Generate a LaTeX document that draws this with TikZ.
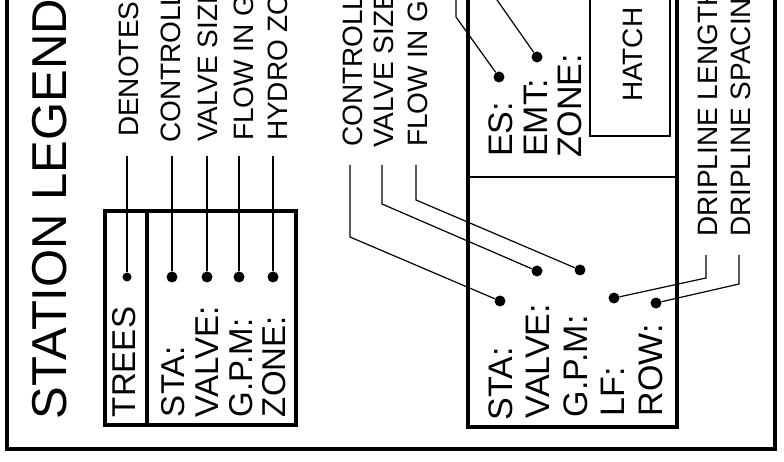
\documentclass[tikz,border=0pt]{standalone}
\usepackage{fontspec}
\setmainfont{Liberation Sans}
\newcommand\myfs[1]{\fontsize{#1}{#1}\selectfont}
\tikzset{
  boxline/.style={line width=3.8pt, line join=miter},
  thinbox/.style={line width=1.4pt},
  leader/.style={line width=1.2pt},
  dot/.style={circle, fill=black, draw=none, inner sep=0pt, minimum size=11pt},
  smalldot/.style={dot, minimum size=9pt},
  lbl/.style={rotate=90, anchor=base west, inner sep=0pt, outer sep=0pt},
}
\begin{document}
\begin{tikzpicture}[x=1pt,y=-1pt]
\useasboundingbox (0,0) rectangle (784,462);
\clip (0,0) rectangle (784,462);
\fill[white] (0,0) rectangle (784,462);
% outer frame
\draw[boxline, line width=4.4pt] (7,-30) -- (7,449) -- (775,449) -- (775,-30);
% title
\node[lbl, font=\myfs{49}] (title) at (66,419) {STATION LEGEND};
% left legend box
\draw[boxline] (105,211) rectangle (296,425);
\draw[boxline] (147,211) -- (147,425);
\node[lbl, font=\myfs{33}] (trees) at (135,417) {TREES};
\node[lbl, font=\myfs{33}] (sta) at (184,417) {STA:};
\node[lbl, font=\myfs{33}] (valve) at (218,417) {VALVE:};
\node[lbl, font=\myfs{33}] (gpm) at (252,417) {G.P.M:};
\node[lbl, font=\myfs{33}] (zone) at (285,417) {ZONE:};
\node[smalldot] (dtrees) at (127,277) {};
\node[dot] (dsta) at (172,277) {};
\node[dot] (dvalve) at (207,277) {};
\node[dot] (dgpm) at (239,277) {};
\node[dot] (dzone) at (273,277) {};
\node[lbl, font=\myfs{28}] (ltrees) at (138,137) {DENOTES TREES};
\node[lbl, font=\myfs{28}] (lsta) at (180,143) {CONTROLLER};
\node[lbl, font=\myfs{28}] (lvalve) at (217,142) {VALVE SIZE};
\node[lbl, font=\myfs{28}] (lgpm) at (253,141) {FLOW IN G.P.M.};
\node[lbl, font=\myfs{28}] (lzone) at (287,141) {HYDRO ZONE};
\coordinate (ttrees) at (127,156);
\coordinate (tsta) at (172,156);
\coordinate (tvalve) at (207,156);
\coordinate (tgpm) at (239,156);
\coordinate (tzone) at (273,156);
\draw[leader] (ttrees) -- (dtrees);
\draw[leader] (tsta) -- (dsta);
\draw[leader] (tvalve) -- (dvalve);
\draw[leader] (tgpm) -- (dgpm);
\draw[leader] (tzone) -- (dzone);
% right legend box
\draw[boxline] (468,-30) -- (468,427) -- (677,427) -- (677,-30);
\draw[leader] (468,177) -- (677,177);
\draw[thinbox] (590,-30) -- (590,136) -- (670,136) -- (670,-30);
\node[lbl, font=\myfs{28}] (hatch) at (642,102) {HATCH};
% upper section
\node[lbl, font=\myfs{34}] (es) at (512,157) {ES:};
\node[lbl, font=\myfs{34}] (emt) at (547,157) {EMT:};
\node[lbl, font=\myfs{34}] (zone2) at (581,158) {ZONE:};
\node[dot] (des) at (499,77) {};
\node[dot] (demt) at (537,57) {};
\coordinate (esa) at (456,-30);
\coordinate (esb) at (456,17);
\coordinate (emta) at (476,-30);
\draw[leader] (esa) -- (esb) -- (des);
\draw[leader] (emta) -- (demt);
% lower section
\node[lbl, font=\myfs{34}] (sta2) at (512,420) {STA:};
\node[lbl, font=\myfs{34}] (valve2) at (549,418) {VALVE:};
\node[lbl, font=\myfs{34}] (gpm2) at (587,417) {G.P.M:};
\node[lbl, font=\myfs{34}] (lf2) at (624,416) {LF:};
\node[lbl, font=\myfs{34}] (row2) at (662,416) {ROW:};
\node[dot] (dsta2) at (500,301) {};
\node[dot] (dvalve2) at (537,271) {};
\node[dot] (dgpm2) at (580,270) {};
\node[dot] (dlf2) at (614,298) {};
\node[dot] (drow2) at (656,303) {};
\node[lbl, font=\myfs{28}] (lsta2) at (362,147) {CONTROLLER};
\node[lbl, font=\myfs{28}] (lvalve2) at (393,148) {VALVE SIZE};
\node[lbl, font=\myfs{28}] (lgpm2) at (427,147) {FLOW IN G.P.M.};
\node[lbl, font=\myfs{28}] (llf2) at (717,237) {DRIPLINE LENGTH};
\node[lbl, font=\myfs{28}] (lrow2) at (750,237) {DRIPLINE SPACING};
\coordinate (sta2a) at (350,165);
\coordinate (sta2b) at (350,237);
\coordinate (valve2a) at (382,165);
\coordinate (valve2b) at (382,204);
\coordinate (gpm2a) at (416,165);
\coordinate (gpm2b) at (416,200);
\coordinate (lf2a) at (706,255);
\coordinate (lf2b) at (706,278);
\coordinate (row2a) at (739,255);
\coordinate (row2b) at (739,284);
\draw[leader] (sta2a) -- (sta2b) -- (dsta2);
\draw[leader] (valve2a) -- (valve2b) -- (dvalve2);
\draw[leader] (gpm2a) -- (gpm2b) -- (dgpm2);
\draw[leader] (lf2a) -- (lf2b) -- (dlf2);
\draw[leader] (row2a) -- (row2b) -- (drow2);
\end{tikzpicture}
\end{document}
